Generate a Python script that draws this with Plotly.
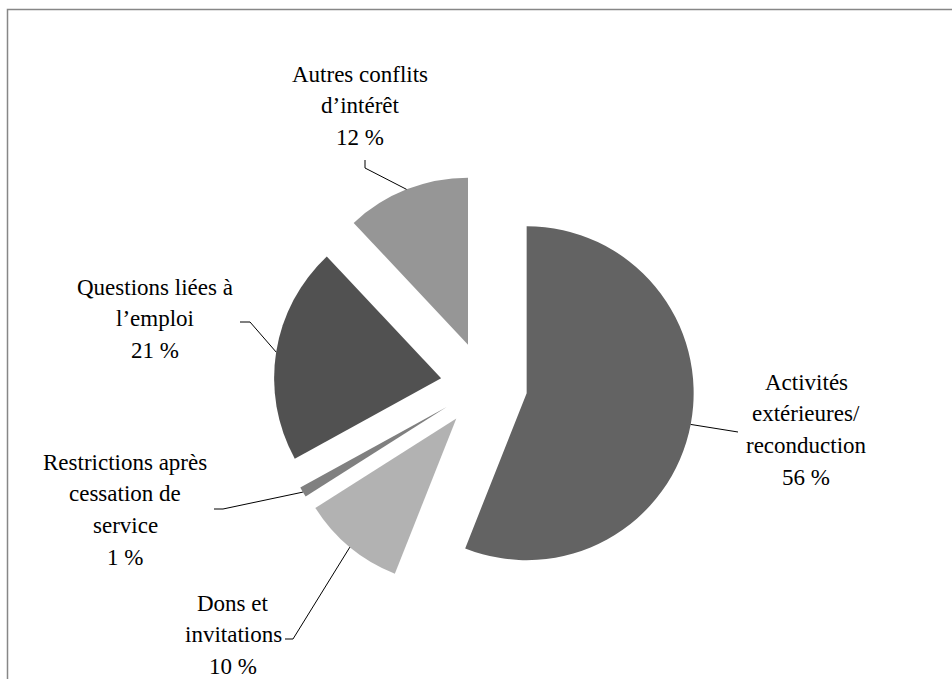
import math
import plotly.graph_objects as go

# Slices, clockwise from 12 o'clock
categories = [
    "Activités<br>extérieures/<br>reconduction",
    "Dons et<br>invitations",
    "Restrictions après<br>cessation de<br>service",
    "Questions liées à<br>l’emploi",
    "Autres conflits<br>d’intérêt",
]
shares = [56, 10, 1, 21, 12]
colors = ["#636363", "#b2b2b2", "#808080", "#515151", "#969696"]

W, H = 952, 679
PULL = 0.26
CX, CY = 484, 385          # pie centre, pixels
R = 167                    # slice radius, pixels
HALF = R * (1 + PULL)      # half-size of the pie domain
FONT = "Liberation Serif, DejaVu Serif, serif"

def fx(x):
    return x / W

def fy(y):
    return 1 - y / H

fig = go.Figure(go.Pie(
    labels=[c.replace("<br>", " ") for c in categories],
    values=shares,
    sort=False,
    direction="clockwise",
    rotation=0,
    pull=[PULL] * len(shares),
    marker=dict(colors=colors, line=dict(width=0)),
    textinfo="none",
    hoverinfo="label+percent",
    showlegend=False,
    domain=dict(x=[fx(CX - HALF), fx(CX + HALF)], y=[fy(CY + HALF), fy(CY - HALF)]),
))

# Label placement (pixel centre of first line) and leader-line bends
label_pos = [(806, 382), (233, 603), (125, 462), (155, 287), (360, 74)]
leader_bends = [
    [(738, 432)],
    [(293, 639), (285, 639)],
    [(223, 509), (214, 509)],
    [(250, 322), (240, 322)],
    [(365, 168), (365, 160)],
]
LINE_STEP = 31.7

total = sum(shares)
shapes = []
annotations = []
start = 0.0
for name, v, (lx, ly), bends in zip(categories, shares, label_pos, leader_bends):
    frac = v / total
    mid = (start + frac / 2) * 2 * math.pi
    start += frac
    ux, uy = math.sin(mid), -math.cos(mid)
    # point on the outer arc of the exploded slice, at its bisector
    ax = CX + ux * (R * PULL + R)
    ay = CY + uy * (R * PULL + R)
    pts = [(ax, ay)] + bends
    path = "M " + " L ".join(f"{fx(px)},{fy(py)}" for px, py in pts)
    shapes.append(dict(type="path", xref="paper", yref="paper", path=path,
                       line=dict(color="#000000", width=1)))
    lines = name.split("<br>") + [f"{v} %"]
    for i, t in enumerate(lines):
        annotations.append(dict(
            x=fx(lx), y=fy(ly + i * LINE_STEP), xref="paper", yref="paper",
            text=t, showarrow=False, xanchor="center", yanchor="middle",
            font=dict(family=FONT, size=23, color="#000000"),
        ))

# Chart frame
shapes.append(dict(type="rect", xref="paper", yref="paper",
                   x0=fx(7.5), x1=fx(W + 20), y0=fy(H + 20), y1=fy(9.5),
                   line=dict(color="#878787", width=1.5), fillcolor="rgba(0,0,0,0)"))

fig.update_layout(
    width=W, height=H,
    margin=dict(l=0, r=0, t=0, b=0),
    paper_bgcolor="#ffffff",
    plot_bgcolor="#ffffff",
    font=dict(family=FONT),
    shapes=shapes,
    annotations=annotations,
)

fig.write_html("out.html")
